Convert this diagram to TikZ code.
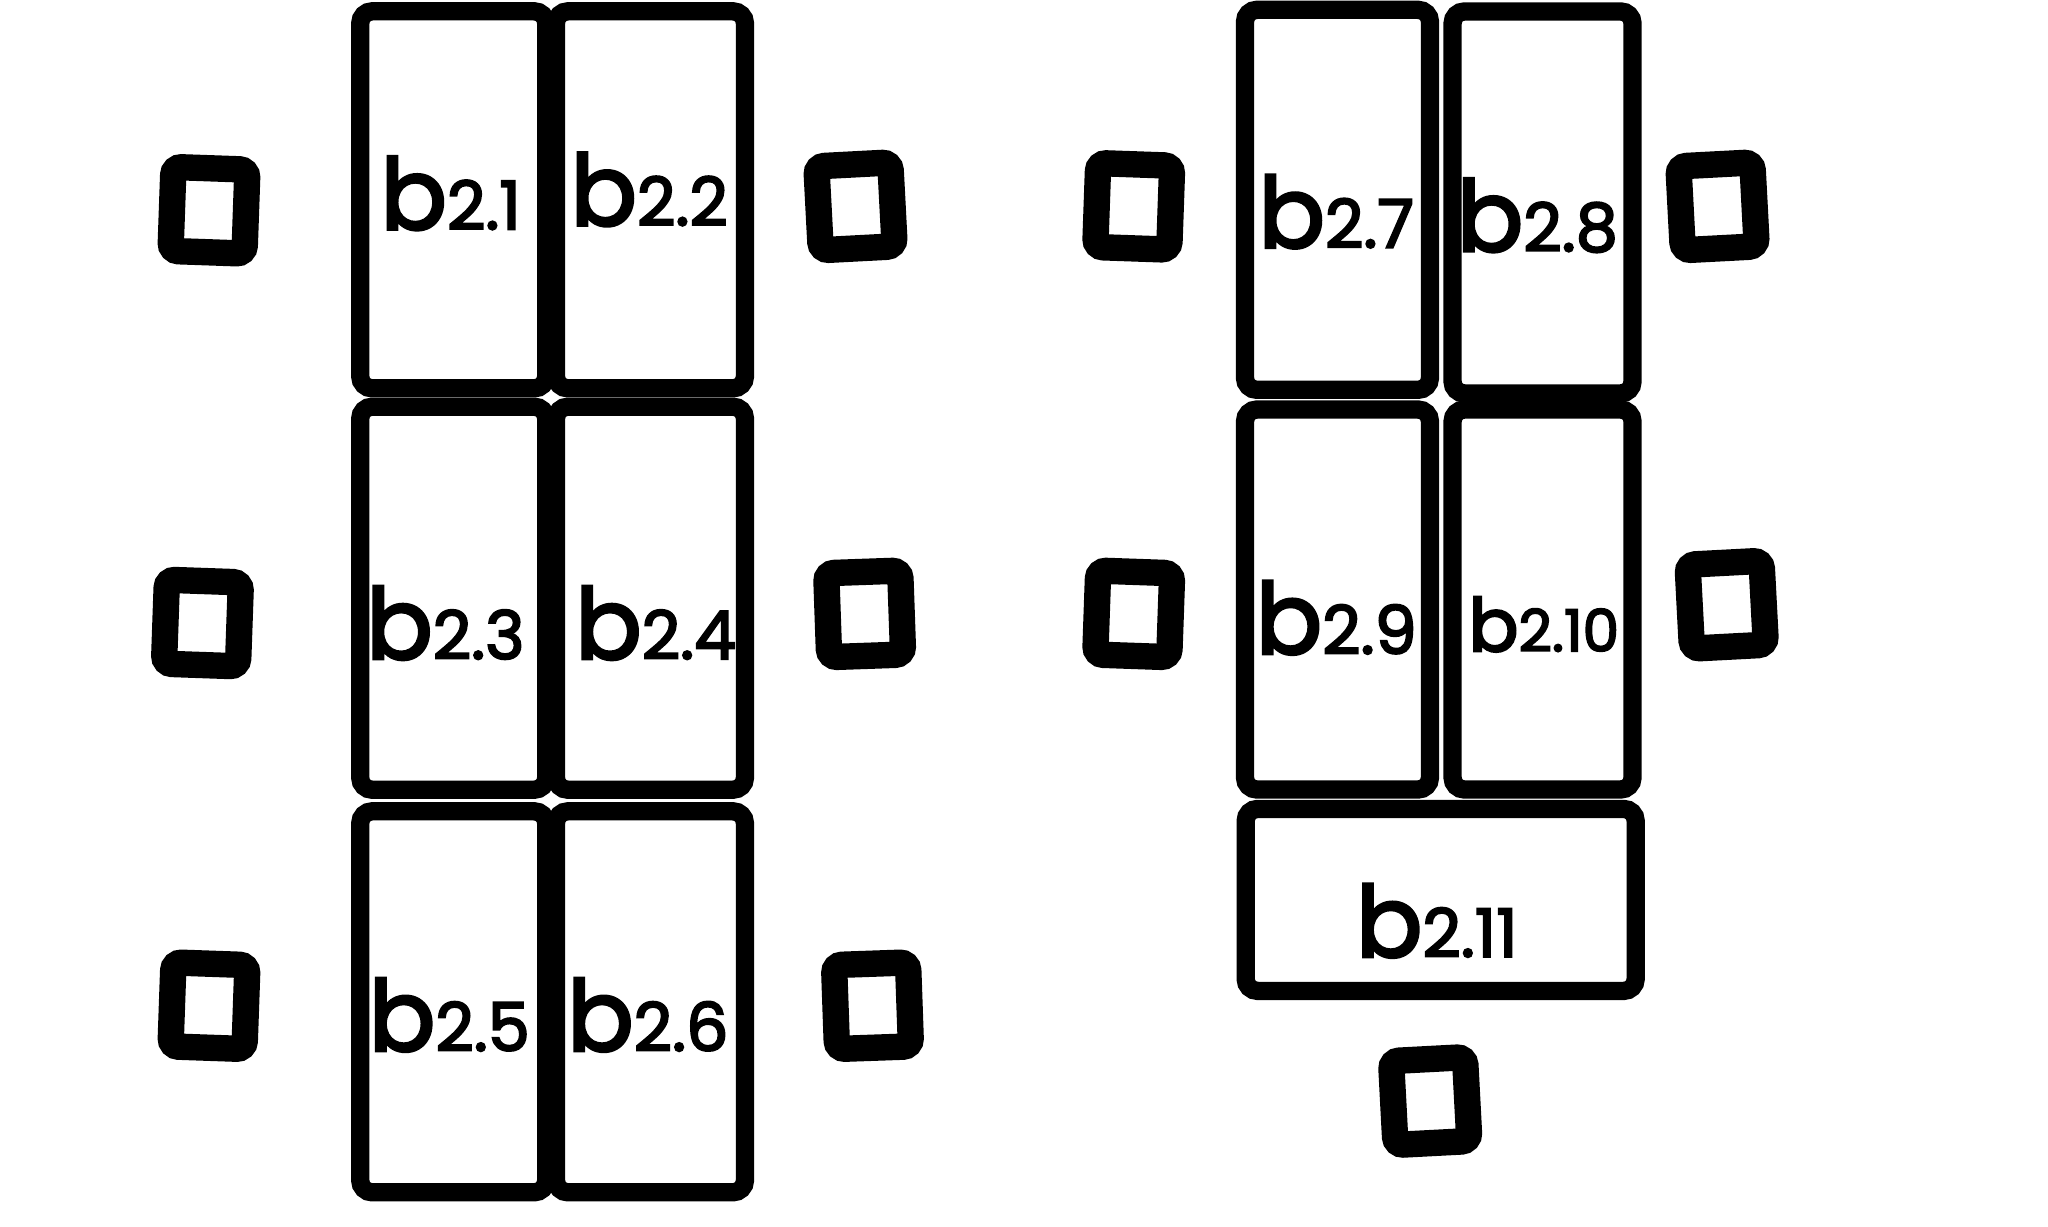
\documentclass[tikz,border=0pt]{standalone}
\usepackage{fontspec}
\setmainfont{Poppins}[FakeBold=3]
\newcommand{\blab}[2][19]{{\fontsize{28}{28}\selectfont b}{\fontsize{#1}{#1}\selectfont #2}}
\tikzset{
desk/.style={draw, line width=5.2pt, rounded corners=1.2mm, inner sep=0pt},
chair/.style={draw, line width=7.5pt, rounded corners=0.8mm, minimum width=7.4mm, minimum height=8.4mm, inner sep=0pt},
}
\begin{document}
\begin{tikzpicture}[x=0.1306mm, y=-0.1306mm]
\useasboundingbox (0,0) rectangle (1568,939);
%
\node [desk, minimum width=18.6mm, minimum height=37.7mm] (b1) at (347,153) {};
\node [desk, minimum width=18.9mm, minimum height=37.7mm] (b2) at (498,153) {};
\node [desk, minimum width=18.6mm, minimum height=38.3mm] (b3) at (347,458) {};
\node [desk, minimum width=18.9mm, minimum height=38.3mm] (b4) at (498,458) {};
\node [desk, minimum width=18.6mm, minimum height=38.1mm] (b5) at (347,767) {};
\node [desk, minimum width=18.9mm, minimum height=38.1mm] (b6) at (498,767) {};
%
\node at (345,148) {\blab{2.1}};
\node at (497,145) {\blab{2.2}};
\node at (341,477) {\blab{2.3}};
\node at (502,477) {\blab{2.4}};
\node at (344,777) {\blab{2.5}};
\node at (496,777) {\blab{2.6}};
%
\node [desk, minimum width=18.5mm, minimum height=38.0mm] (b7) at (1024,153) {};
\node [desk, minimum width=18.0mm, minimum height=38.2mm] (b8) at (1181,155) {};
\node [desk, minimum width=18.5mm, minimum height=38.0mm] (b9) at (1024,459) {};
\node [desk, minimum width=18.0mm, minimum height=38.0mm] (b10) at (1181,459) {};
\node [desk, minimum width=39.0mm, minimum height=18.2mm] (b11) at (1103,689) {};
%
\node at (1023,162) {\blab{2.7}};
\node at (1177,165) {\blab{2.8}};
\node at (1023,473) {\blab{2.9}};
\node at (1182,478) {{\fontsize{21}{21}\selectfont b}{\fontsize{16.5}{16.5}\selectfont 2.10}};
\node at (1100,705) {\blab{2.11}};
%
\node [chair, rotate=-2] (c1) at (160,161) {};
\node [chair, rotate=-2] (c2) at (155,477) {};
\node [chair, rotate=-2] (c3) at (160,770) {};
\node [chair, rotate=3] (c4) at (655,158) {};
\node [chair, rotate=2] (c5) at (662,470) {};
\node [chair, rotate=2] (c6) at (668,770) {};
%
\node [chair, rotate=-2] (c7) at (868,158) {};
\node [chair, rotate=-2] (c8) at (868,470) {};
\node [chair, rotate=3] (c9) at (1315,158) {};
\node [chair, rotate=3] (c10) at (1322,463) {};
\node [chair, rotate=3] (c11) at (1095,843) {};
\end{tikzpicture}
\end{document}
